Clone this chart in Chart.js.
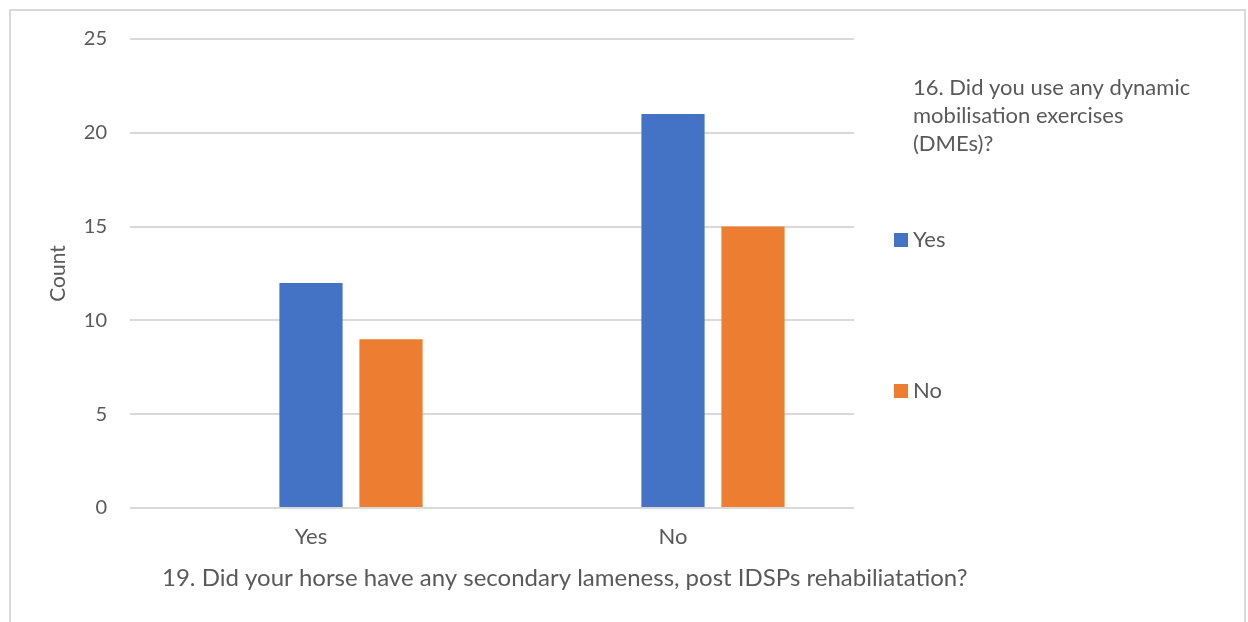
<!DOCTYPE html>
<html><head><meta charset="utf-8">
<script src="https://cdn.jsdelivr.net/npm/chart.js@4.4.0/dist/chart.umd.min.js"></script>
<style>html,body{margin:0;padding:0;background:#fff;} #wrap{position:relative;width:1248px;height:622px;}</style>
</head><body><div id="wrap"><canvas id="c"></canvas></div>
<script>
const categories = ['Yes', 'No'];
const legendTitleSeries = '16. Did you use any dynamic mobilisation exercises (DMEs)?';
const seriesYesName = 'Yes';
const seriesNoName = 'No';
const titleSeriesValues = [null, null];
const yesValues = [12, 21];
const noValues = [9, 15];
const yTicks = [0, 5, 10, 15, 20, 25];
const xAxisTitle = '19. Did your horse have any secondary lameness, post IDSPs rehabiliatation?';
const yAxisTitle = 'Count';

const TEXT = '#595959';
const FONT = 'Lato';

function wrap(ctx, text, maxW) {
  const words = text.split(' '); const lines = []; let cur = '';
  for (const w of words) {
    const t = cur ? cur + ' ' + w : w;
    if (ctx.measureText(t).width > maxW && cur) { lines.push(cur); cur = w; } else cur = t;
  }
  if (cur) lines.push(cur);
  return lines;
}

const framePlugin = {
  id: 'frame',
  beforeDraw(chart) {
    const ctx = chart.ctx; ctx.save();
    ctx.fillStyle = '#fff'; ctx.fillRect(0, 0, chart.width, chart.height);
    ctx.strokeStyle = '#d9d9d9'; ctx.lineWidth = 2;
    ctx.strokeRect(10, 10, 1235, 700);
    ctx.restore();
  },
  afterDraw(chart) {
    const ctx = chart.ctx; ctx.save();
    ctx.textBaseline = 'middle'; ctx.textAlign = 'left';
    // x axis title
    ctx.font = '24px ' + FONT;
    ctx.fillStyle = TEXT;
    ctx.fillText(xAxisTitle, 162, 578);
    // legend
    ctx.font = '22px ' + FONT;
    const centers = [116, 240, 391];
    chart.data.datasets.forEach((d, i) => {
      const lines = wrap(ctx, d.label, 285);
      const lh = 28; const y0 = centers[i] - (lines.length - 1) * lh / 2;
      ctx.fillStyle = TEXT;
      lines.forEach((l, j) => ctx.fillText(l, 913, y0 + j * lh));
      if (d.data.some(v => v != null)) {
        ctx.fillStyle = d.backgroundColor;
        ctx.fillRect(894, centers[i] - 7, 14, 14);
      }
    });
    ctx.restore();
  }
};

new Chart(document.getElementById('c'), {
  type: 'bar',
  data: {
    labels: categories,
    datasets: [
      { label: legendTitleSeries, data: titleSeriesValues, backgroundColor: 'rgba(0,0,0,0)' },
      { label: seriesYesName, data: yesValues, backgroundColor: '#4472C4' },
      { label: seriesNoName, data: noValues, backgroundColor: '#ED7D31' }
    ]
  },
  options: {
    responsive: true, maintainAspectRatio: false, animation: false,
    datasets: { bar: { categoryPercentage: 0.663, barPercentage: 0.79 } },
    layout: { padding: { top: 39, right: 394, bottom: 0, left: 0 } },
    plugins: { legend: { display: false }, tooltip: { enabled: false } },
    scales: {
      x: {
        grid: { display: false, drawTicks: false }, border: { display: false },
        ticks: { color: TEXT, font: { family: FONT, size: 22 }, padding: 16 },
        afterFit(s) { s.height = 114; }
      },
      y: {
        min: 0, max: 25,
        afterBuildTicks(s) { s.ticks = yTicks.map(v => ({ value: v })); },
        grid: { color: '#d9d9d9', lineWidth: 2, drawTicks: false }, border: { display: false },
        ticks: { color: TEXT, font: { family: FONT, size: 20 }, padding: 23 },
        title: { display: true, text: yAxisTitle, color: TEXT, font: { family: FONT, size: 21 }, padding: { top: 46, bottom: 0 } },
        afterFit(s) { s.width = 130; }
      }
    }
  },
  plugins: [framePlugin]
});
</script></body></html>
